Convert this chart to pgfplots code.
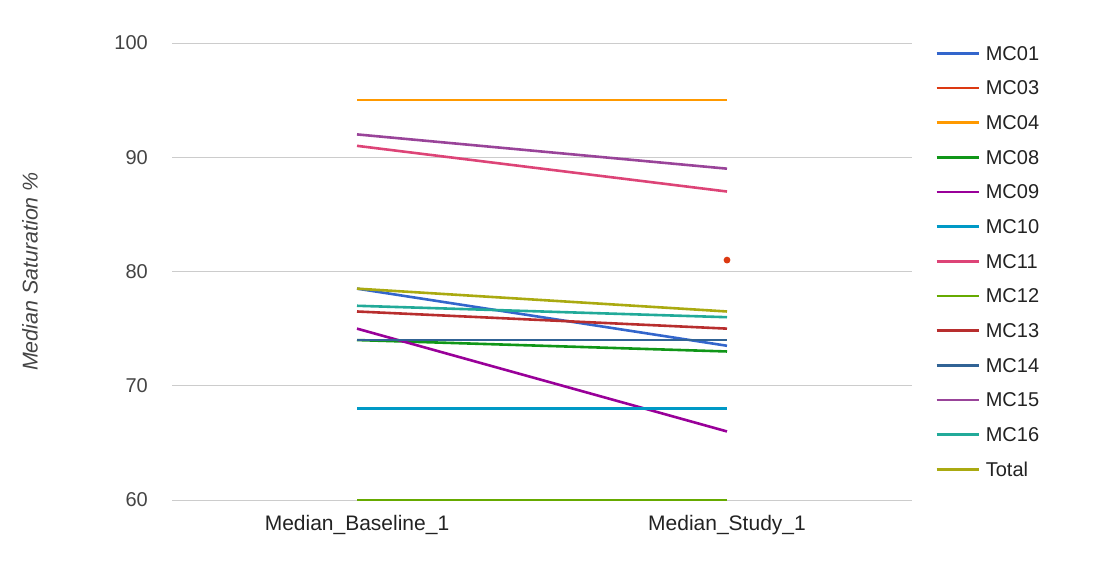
\documentclass[border=0pt]{standalone}
\usepackage{pgfplots}
\pgfplotsset{compat=1.18}
\usepackage{fontspec}
\setmainfont{Liberation Sans}
\definecolor{mc01}{HTML}{3366CC}
\definecolor{mc03}{HTML}{DC3912}
\definecolor{mc04}{HTML}{FF9900}
\definecolor{mc08}{HTML}{109618}
\definecolor{mc09}{HTML}{990099}
\definecolor{mc10}{HTML}{0099C6}
\definecolor{mc11}{HTML}{DD4477}
\definecolor{mc12}{HTML}{66AA00}
\definecolor{mc13}{HTML}{B82E2E}
\definecolor{mc14}{HTML}{316395}
\definecolor{mc15}{HTML}{994499}
\definecolor{mc16}{HTML}{22AA99}
\definecolor{total}{HTML}{AAAA11}
\definecolor{gridc}{HTML}{CCCCCC}
\definecolor{tickc}{HTML}{444444}
\definecolor{labc}{HTML}{222222}
\begin{document}
\begin{tikzpicture}
\useasboundingbox (0,0) rectangle (1099pt,576pt);
\begin{axis}[
  at={(172pt,76pt)}, anchor=south west,
  scale only axis, width=740pt, height=457pt,
  xmin=-0.5, xmax=1.5, ymin=60, ymax=100,
  xtick={0,1}, xticklabels={Median\_Baseline\_1, Median\_Study\_1},
  ytick={60,70,80,90,100},
  axis line style={draw=none},
  ymajorgrids, grid style={gridc, line width=1pt},
  major tick length=0pt,
  clip=false,
  font=\fontsize{20}{24}\selectfont,
  tick label style={font=\fontsize{20}{24}\selectfont, text=tickc},
  /pgf/number format/assume math mode=true,
  yticklabel style={inner sep=0pt, anchor=east, xshift=-24pt},
  xticklabel style={inner sep=0pt, anchor=north, yshift=-15pt, text=labc, font=\fontsize{21}{25}\selectfont},
  ylabel={\itshape Median Saturation \%},
  ylabel style={at={(axis description cs:-0.1919,0.5)}, anchor=center, text=tickc, inner sep=0pt, font=\fontsize{21.4}{25}\selectfont},
  every axis plot/.append style={line width=2.6pt},
  legend image code/.code={\draw[#1, mark=none, line width=2.6pt] (0pt,2pt) -- (42pt,2pt);},
  legend style={at={(axis description cs:1,1)}, anchor=north west, xshift=23pt, yshift=-2pt,
    draw=none, fill=none, inner sep=0pt, row sep=14.67pt, column sep=6pt,
    nodes={inner sep=0pt, text height=15pt, text depth=5pt, text=labc},
    font=\fontsize{20}{24}\selectfont},
  legend cell align=left,
]
\addplot[mc01] coordinates {(0,78.5) (1,73.5)};
\addlegendentry{MC01}
\addplot[mc03, mark=*, mark size=2pt] coordinates {(1,81)};
\addlegendentry{MC03}
\addplot[mc04] coordinates {(0,95) (1,95)};
\addlegendentry{MC04}
\addplot[mc08] coordinates {(0,74) (1,73)};
\addlegendentry{MC08}
\addplot[mc09] coordinates {(0,75) (1,66)};
\addlegendentry{MC09}
\addplot[mc10] coordinates {(0,68) (1,68)};
\addlegendentry{MC10}
\addplot[mc11] coordinates {(0,91) (1,87)};
\addlegendentry{MC11}
\addplot[mc12] coordinates {(0,60) (1,60)};
\addlegendentry{MC12}
\addplot[mc13] coordinates {(0,76.5) (1,75)};
\addlegendentry{MC13}
\addplot[mc14] coordinates {(0,74) (1,74)};
\addlegendentry{MC14}
\addplot[mc15] coordinates {(0,92) (1,89)};
\addlegendentry{MC15}
\addplot[mc16] coordinates {(0,77) (1,76)};
\addlegendentry{MC16}
\addplot[total] coordinates {(0,78.5) (1,76.5)};
\addlegendentry{Total}
\end{axis}
\end{tikzpicture}
\end{document}
